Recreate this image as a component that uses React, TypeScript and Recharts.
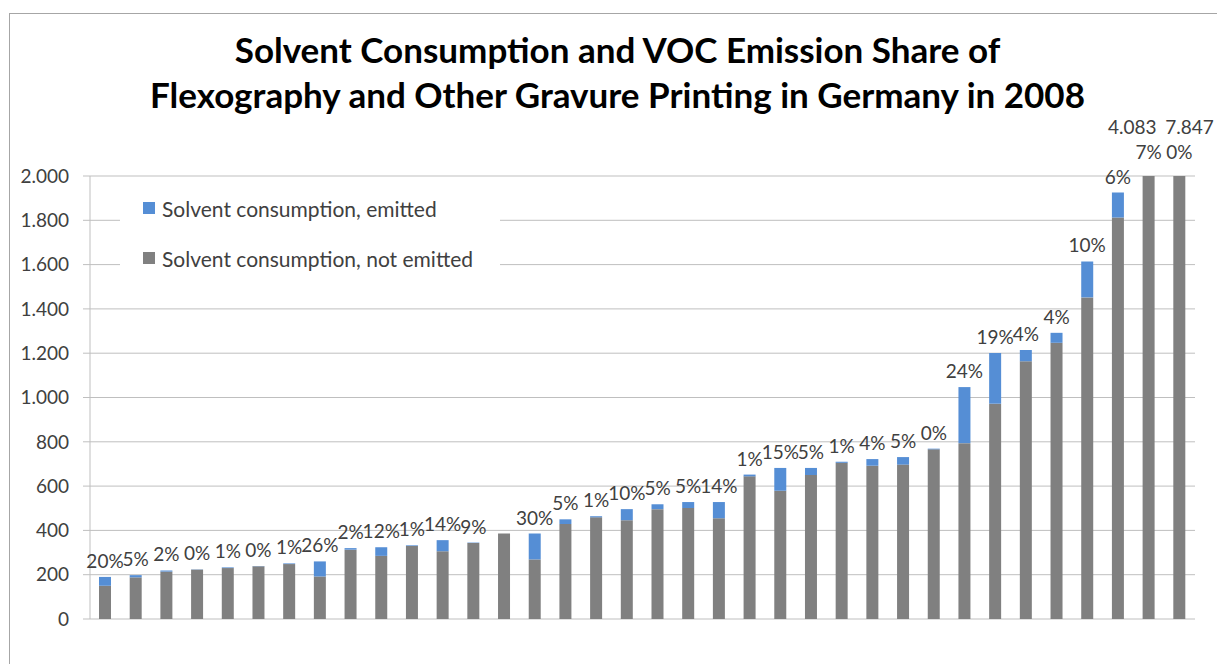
import { BarChart, Bar, XAxis, YAxis, CartesianGrid, Legend, LabelList } from "recharts";

// 36 printing plants, sorted by total solvent consumption (t/a)
const plants = [
  "1", "2", "3", "4", "5", "6", "7", "8", "9", "10", "11", "12",
  "13", "14", "15", "16", "17", "18", "19", "20", "21", "22", "23", "24",
  "25", "26", "27", "28", "29", "30", "31", "32", "33", "34", "35", "36"
];

const notEmitted = [
  150, 188, 214, 223, 230, 238, 248, 192, 313, 285, 330, 306,
  343, 386, 269, 429, 459, 446, 496, 501, 455, 644, 579, 650,
  705, 692, 697, 766, 794, 972, 1164, 1247, 1452, 1813, 3797, 7847
];

const emitted = [
  40, 10, 5, 1, 3, 1, 3, 68, 7, 39, 3, 50,
  2, 0, 117, 21, 5, 50, 22, 27, 73, 8, 103, 32,
  5, 30, 34, 3, 253, 229, 51, 45, 162, 112, 286, 0
];

const shareLabels = [
  "20%", "5%", "2%", "0%", "1%", "0%", "1%", "26%", "2%", "12%", "1%", "14%",
  "9%", "", "30%", "5%", "1%", "10%", "5%", "5%", "14%", "1%", "15%", "5%",
  "1%", "4%", "5%", "0%", "24%", "19%", "4%", "4%", "10%", "6%", "7%", "0%"
];

const yTicks = [0, 200, 400, 600, 800, 1000, 1200, 1400, 1600, 1800, 2000];

const Y_MAX = 2000;
const PLOT_TOP = 176;
const BLUE = "#558ed5";
const GRAY = "#808080";
const TEXT = "#404040";
const FONT = "Lato, 'Open Sans', sans-serif";

const data = plants.map((plant, i) => ({
  plant,
  notEmitted: notEmitted[i],
  emitted: emitted[i],
  share: shareLabels[i],
  total: notEmitted[i] + emitted[i]
}));

// German thousands separator: 2000 -> "2.000"
const fmt = (v: number) =>
  v >= 1000 ? `${Math.floor(v / 1000)}.${String(v % 1000).padStart(3, "0")}` : String(v);

// label sits on the gray (bottom) bar; the top of the stack is found from the bar's own scale
function ShareLabel(props: any) {
  const box = props.viewBox ?? props;
  const { x, y, width, height } = box;
  const idx = data.findIndex((d) => d.plant === String(props.value));
  const row = data[idx];
  if (!row) return null;
  const cx = x + width / 2;
  if (row.total > Y_MAX) {
    // neighbouring off-scale totals are pushed apart so they don't collide
    const nextOver = data[idx + 1] && data[idx + 1].total > Y_MAX;
    const prevOver = data[idx - 1] && data[idx - 1].total > Y_MAX;
    let tx = cx;
    let anchor: "middle" | "end" | "start" = "middle";
    if (nextOver) {
      tx = cx + 8;
      anchor = "end";
    } else if (prevOver) {
      tx = cx - 14;
      anchor = "start";
    }
    return (
      <g>
        <text x={tx} y={PLOT_TOP - 42} textAnchor={anchor} fill={TEXT} fontSize={19} fontFamily={FONT}>
          {fmt(row.total)}
        </text>
        <text x={cx} y={PLOT_TOP - 17} textAnchor="middle" fill={TEXT} fontSize={19} fontFamily={FONT}>
          {row.share}
        </text>
      </g>
    );
  }
  if (!row.share) return null;
  const pxPerUnit = height / row.notEmitted;
  const top = y - row.emitted * pxPerUnit;
  return (
    <text x={cx} y={top - 9} textAnchor="middle" fill={TEXT} fontSize={19} fontFamily={FONT}>
      {row.share}
    </text>
  );
}

function LegendBox(props: any) {
  const items = [...(props.payload ?? [])].sort((a: any, b: any) =>
    a.dataKey === "emitted" ? -1 : b.dataKey === "emitted" ? 1 : 0
  );
  return (
    <div style={{ background: "#fff", width: 380, height: 90, fontFamily: FONT }}>
      {items.map((item: any, i: number) => (
        <div
          key={item.value}
          style={{
            display: "flex",
            alignItems: "center",
            height: 40,
            marginTop: i === 0 ? 0 : 10,
            paddingLeft: 23,
            fontSize: 21,
            color: TEXT
          }}
        >
          <span style={{ width: 12, height: 12, background: item.color, marginRight: 7, display: "inline-block" }} />
          {item.value}
        </div>
      ))}
    </div>
  );
}

export default function App() {
  return (
    <div
      style={{
        position: "fixed",
        left: 0,
        top: 0,
        width: 1217,
        height: 664,
        overflow: "hidden",
        background: "#fff",
        fontFamily: FONT
      }}
    >
      <div
        style={{
          position: "absolute",
          left: 9,
          top: 13,
          width: 1300,
          height: 800,
          border: "1px solid #a6a6a6"
        }}
      />
      <div
        style={{
          position: "absolute",
          left: 9,
          top: 27,
          width: 1217,
          textAlign: "center",
          fontWeight: 700,
          fontSize: 35,
          lineHeight: "45px",
          color: "#000"
        }}
      >
        <div>Solvent Consumption and VOC Emission Share of</div>
        <div>Flexography and Other Gravure Printing in Germany in 2008</div>
      </div>
      <div style={{ position: "absolute", left: 0, top: 0 }}>
        <BarChart
          width={1217}
          height={664}
          data={data}
          margin={{ top: PLOT_TOP, right: 22, bottom: 45, left: 10 }}
          barSize={12}
        >
          <CartesianGrid vertical={false} stroke="#bfbfbf" />
          <XAxis dataKey="plant" tick={false} height={0} axisLine={{ stroke: "#bfbfbf" }} tickLine={false} />
          <YAxis
            domain={[0, Y_MAX]}
            ticks={yTicks}
            allowDataOverflow
            width={80}
            tickSize={7}
            tickMargin={14}
            axisLine={{ stroke: "#bfbfbf" }}
            tickLine={{ stroke: "#bfbfbf" }}
            tick={{ fill: TEXT, fontSize: 19, fontFamily: FONT }}
            tickFormatter={fmt}
          />
          <Legend
            layout="horizontal"
            verticalAlign="middle"
            align="center"
            wrapperStyle={{ left: 120, top: 188, width: 380 }}
            content={LegendBox}
          />
          <Bar
            dataKey="notEmitted"
            name="Solvent consumption, not emitted"
            stackId="s"
            fill={GRAY}
            isAnimationActive={false}
          >
            <LabelList dataKey="plant" content={ShareLabel} />
          </Bar>
          <Bar
            dataKey="emitted"
            name="Solvent consumption, emitted"
            stackId="s"
            fill={BLUE}
            isAnimationActive={false}
          />
        </BarChart>
      </div>
    </div>
  );
}
